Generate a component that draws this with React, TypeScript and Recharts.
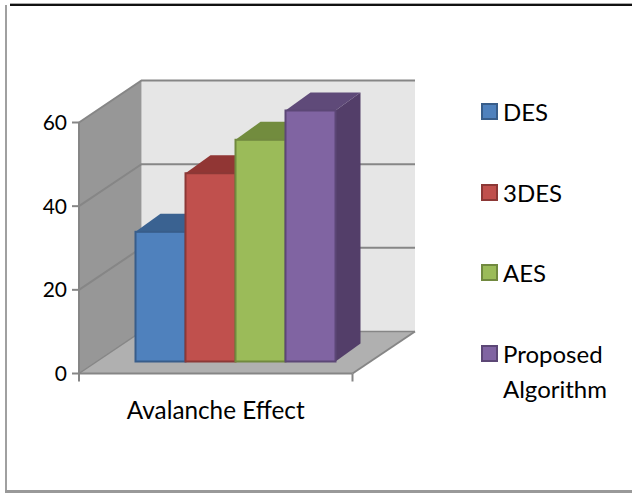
import { Bar, BarChart, CartesianGrid, Legend, XAxis, YAxis } from "recharts"

const categories = ["Avalanche Effect"]
const desValues = [31]
const tripleDesValues = [45]
const aesValues = [53]
const proposedValues = [60]
const yTicks = [0, 20, 40, 60]

const data = categories.map((name, i) => ({
  name,
  DES: desValues[i],
  "3DES": tripleDesValues[i],
  AES: aesValues[i],
  Proposed: proposedValues[i],
}))

const FONT = "Lato, Carlito, sans-serif"
const AXIS_COLOR = "#868686"

// plot box of the front plane, and how far the back wall sits behind it
const W = 632
const H = 493
const LEFT = 79
const RIGHT = 352.5
const TOP = 122.5
const BOTTOM = 373.5
const DEPTH_X = 62.5
const DEPTH_Y = -42

// bars stand in the middle of the floor, not on the front edge
const BAR_SHIFT_X = 19.5
const BAR_SHIFT_Y = -12
const BAR_DX = 25
const BAR_DY = -18

const pts = (...p: number[][]) => p.map((q) => q.join(",")).join(" ")

function Walls() {
  const bx = LEFT + DEPTH_X
  const rx = RIGHT + DEPTH_X
  const ty = TOP + DEPTH_Y
  const by = BOTTOM + DEPTH_Y
  return (
    <g>
      <polygon points={pts([bx, ty], [rx, ty], [rx, by], [bx, by])} fill="#e6e6e6" />
      <polygon points={pts([LEFT, TOP], [bx, ty], [bx, by], [LEFT, BOTTOM])} fill="#979797" />
      <polygon points={pts([LEFT, BOTTOM], [bx, by], [rx, by], [RIGHT, BOTTOM])} fill="#b0b0b0" />
      <polyline points={pts([LEFT, BOTTOM], [LEFT, TOP])} fill="none" stroke={AXIS_COLOR} strokeWidth={2} />
      <polyline points={pts([LEFT, BOTTOM], [bx, by], [rx, by])} fill="none" stroke={AXIS_COLOR} strokeWidth={1.5} />
      <line x1={RIGHT} y1={BOTTOM} x2={rx} y2={by} stroke={AXIS_COLOR} strokeWidth={2} />
    </g>
  )
}

// one grid line runs up the side wall and then across the back wall
function GridLine(props: any) {
  const { y1, index } = props
  if (y1 > BOTTOM - 1) return <g key={index} />
  return (
    <polyline
      key={index}
      points={pts([LEFT, y1], [LEFT + DEPTH_X, y1 + DEPTH_Y], [RIGHT + DEPTH_X, y1 + DEPTH_Y])}
      fill="none"
      stroke={AXIS_COLOR}
      strokeWidth={2}
    />
  )
}

function Box3D(props: any) {
  const { x, y, width, height, fill, stroke, topFill, sideFill } = props
  const l = x + BAR_SHIFT_X
  const r = l + width
  const t = y + BAR_SHIFT_Y
  const b = t + height
  return (
    <g>
      <polygon points={pts([r, t], [r + BAR_DX, t + BAR_DY], [r + BAR_DX, b + BAR_DY], [r, b])} fill={sideFill} />
      <polygon points={pts([l, t], [l + BAR_DX, t + BAR_DY], [r + BAR_DX, t + BAR_DY], [r, t])} fill={topFill} />
      <rect x={l} y={t} width={width} height={height} fill={fill} stroke={stroke} strokeWidth={2} />
    </g>
  )
}

function CategoryTick(props: any) {
  const { x, y, payload } = props
  return (
    <g>
      <line x1={LEFT} y1={BOTTOM} x2={LEFT} y2={BOTTOM + 8} stroke={AXIS_COLOR} strokeWidth={2} />
      <line x1={RIGHT} y1={BOTTOM} x2={RIGHT} y2={BOTTOM + 8} stroke={AXIS_COLOR} strokeWidth={2} />
      <text x={x} y={y + 37} textAnchor="middle" fontFamily={FONT} fontSize={24.3} fill="#000">
        {payload.value}
      </text>
    </g>
  )
}

const legendLabels: Record<string, string[]> = {
  DES: ["DES"],
  "3DES": ["3DES"],
  AES: ["AES"],
  Proposed: ["Proposed", "Algorithm"],
}

function LegendRows({ payload }: any) {
  return (
    <div style={{ fontFamily: FONT, fontSize: 24, color: "#000" }}>
      {(payload ?? []).map((entry: any) => (
        <div key={entry.value} style={{ position: "relative", height: 80.5, lineHeight: "35px" }}>
          <span
            style={{
              position: "absolute",
              left: 0,
              top: 9,
              width: 13,
              height: 13,
              background: entry.color,
              border: `2px solid ${entry.payload.stroke}`,
              boxSizing: "content-box",
            }}
          />
          <div style={{ position: "absolute", left: 22, top: 0, whiteSpace: "nowrap" }}>
            {legendLabels[entry.value].map((line) => (
              <div key={line}>{line}</div>
            ))}
          </div>
        </div>
      ))}
    </div>
  )
}

const seriesStyles = [
  { key: "DES", fill: "#4f81bd", stroke: "#385d8a", topFill: "#3a6291", sideFill: "#335680" },
  { key: "3DES", fill: "#c0504d", stroke: "#8c3836", topFill: "#913634", sideFill: "#7f302e" },
  { key: "AES", fill: "#9bbb59", stroke: "#71893f", topFill: "#728c3e", sideFill: "#647b36" },
  { key: "Proposed", fill: "#8064a2", stroke: "#5c4776", topFill: "#5f4a79", sideFill: "#533e69" },
]

export default function App() {
  return (
    <div style={{ position: "absolute", left: 0, top: 0, width: W, height: H, background: "#fff", overflow: "hidden" }}>
      <BarChart
        width={W}
        height={H}
        data={data}
        barSize={50}
        barGap={0}
        margin={{ top: TOP, right: W - RIGHT, bottom: 80, left: LEFT - 60 }}
      >
        <Walls />
        <CartesianGrid vertical={false} horizontal={GridLine} stroke={AXIS_COLOR} zIndex={1} />
        <XAxis
          dataKey="name"
          axisLine={{ stroke: AXIS_COLOR, strokeWidth: 2 }}
          tickLine={false}
          height={H - BOTTOM - 80}
          tick={CategoryTick}
          interval={0}
        />
        <YAxis
          width={60}
          domain={[0, 60]}
          ticks={yTicks}
          axisLine={false}
          tickSize={7}
          tickMargin={5}
          tickLine={{ stroke: AXIS_COLOR, strokeWidth: 2 }}
          tick={{ fontFamily: FONT, fontSize: 21, fill: "#000" }}
        />
        {seriesStyles.map((s) => (
          <Bar
            key={s.key}
            dataKey={s.key}
            fill={s.fill}
            stroke={s.stroke}
            isAnimationActive={false}
            shape={(p: any) => <Box3D {...p} fill={s.fill} stroke={s.stroke} topFill={s.topFill} sideFill={s.sideFill} />}
          />
        ))}
        <Legend
          layout="horizontal"
          align="center"
          verticalAlign="middle"
          itemSorter={null}
          content={LegendRows}
          wrapperStyle={{ left: 481, top: 94, width: 150, right: "auto", bottom: "auto", transform: "none" }}
        />
      </BarChart>

      {/* frame around the chart */}
      <div style={{ position: "absolute", left: 10, top: 3, right: 0, height: 1, background: "#aaa" }} />
      <div style={{ position: "absolute", left: 10, top: 4, right: 0, height: 2, background: "#111" }} />
      <div style={{ position: "absolute", left: 5, top: 5, width: 2, bottom: 1, background: "#a0a0a0" }} />
      <div style={{ position: "absolute", left: 5, bottom: 0, right: 0, height: 3, background: "#999" }} />
    </div>
  )
}
